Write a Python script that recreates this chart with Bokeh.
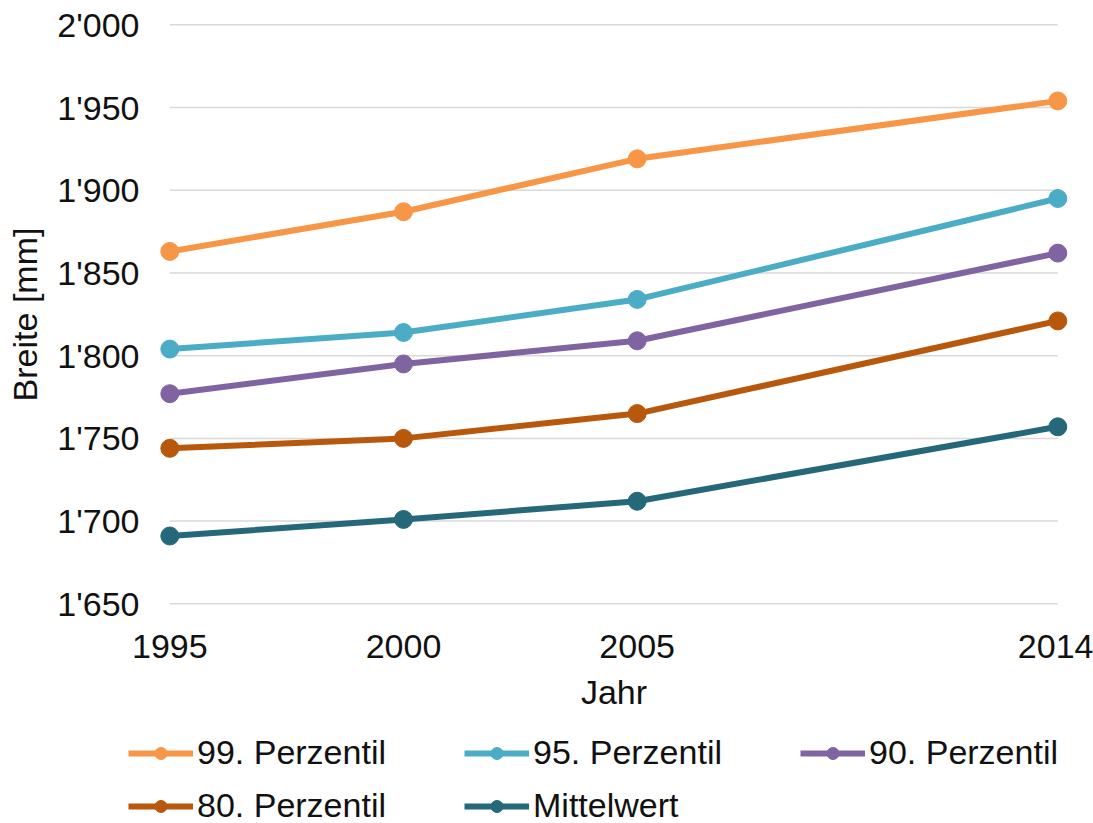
from bokeh.plotting import figure
from bokeh.models import Range1d, FixedTicker, Legend, LegendItem
from bokeh.embed import file_html
from bokeh.resources import INLINE

# Body width percentiles by survey year
years = [1995, 2000, 2005, 2014]
p99 = [1863, 1887, 1919, 1954]
p95 = [1804, 1814, 1834, 1895]
p90 = [1777, 1795, 1809, 1862]
p80 = [1744, 1750, 1765, 1821]
mean = [1691, 1701, 1712, 1757]

series_names = ["99. Perzentil", "95. Perzentil", "90. Perzentil", "80. Perzentil", "Mittelwert"]
series_values = [p99, p95, p90, p80, mean]
series_colors = ["#F79646", "#4BACC6", "#8064A2", "#B8580C", "#25687A"]

y_ticks = [1650, 1700, 1750, 1800, 1850, 1900, 1950, 2000]
y_labels = ["1'650", "1'700", "1'750", "1'800", "1'850", "1'900", "1'950", "2'000"]

FONT = "Liberation Sans"
TEXT = "#111111"
FS = "34px"

p = figure(
    width=1093, height=725,
    x_range=Range1d(1994.608, 2014.400),
    y_range=Range1d(1645.96, 2003.81),
    min_border_left=151, min_border_right=17,
    min_border_top=18, min_border_bottom=115,
    output_backend="svg", toolbar_location=None,
)
p.outline_line_color = None
p.background_fill_color = "white"
p.border_fill_color = "white"
p.xgrid.visible = False
p.ygrid.visible = False

# horizontal gridlines spanning the first to last survey year
p.segment(x0=[years[0]] * len(y_ticks), x1=[years[-1]] * len(y_ticks),
          y0=y_ticks, y1=y_ticks, line_color="#D9D9D9", line_width=1.5)

for vals, col in zip(series_values, series_colors):
    p.line(years, vals, line_color=col, line_width=6)
    p.scatter(years, vals, size=18, fill_color=col, line_color=col)

# axes
p.xaxis.ticker = FixedTicker(ticks=years)
p.xaxis.major_label_overrides = {y: str(y) for y in years}
p.yaxis.ticker = FixedTicker(ticks=y_ticks)
p.yaxis.major_label_overrides = dict(zip(y_ticks, y_labels))
p.xaxis.axis_label = "Jahr"
p.yaxis.axis_label = "Breite [mm]"
for ax in (p.xaxis, p.yaxis):
    ax.axis_line_color = None
    ax.major_tick_line_color = None
    ax.minor_tick_line_color = None
    ax.major_tick_out = 0
    ax.major_tick_in = 0
    ax.major_label_text_font = FONT
    ax.major_label_text_font_size = FS
    ax.major_label_text_color = TEXT
    ax.axis_label_text_font = FONT
    ax.axis_label_text_font_size = FS
    ax.axis_label_text_font_style = "normal"
    ax.axis_label_text_color = TEXT
p.yaxis.major_label_standoff = 12
p.yaxis.axis_label_standoff = 10
p.xaxis.major_label_standoff = 24
p.xaxis.axis_label_standoff = 12

# legend strip underneath the chart; its own ranges keep the series out of view
lg = figure(
    width=1093, height=98, x_axis_type=None, y_axis_type=None,
    x_range=Range1d(0, 1), y_range=Range1d(0, 1),
    min_border=0, output_backend="svg", toolbar_location=None,
)
lg.outline_line_color = None
lg.xgrid.visible = False
lg.ygrid.visible = False

items = []
for name, vals, col in zip(series_names, series_values, series_colors):
    ln = lg.line(years, vals, line_color=col, line_width=6)
    sc = lg.scatter(years, vals, size=18, fill_color=col, line_color=col)
    items.append(LegendItem(label=name, renderers=[ln, sc]))

legend = Legend(
    items=items, location=(128, -2), orientation="horizontal", ncols=3,
    glyph_width=65, glyph_height=30, label_height=36, label_width=253,
    label_standoff=4, spacing=14, padding=0, margin=0,
    label_text_font=FONT, label_text_font_size=FS, label_text_color=TEXT,
    border_line_color=None, background_fill_alpha=0,
)
lg.add_layout(legend, "center")

open("out.html", "w").write(file_html([p, lg], INLINE))
